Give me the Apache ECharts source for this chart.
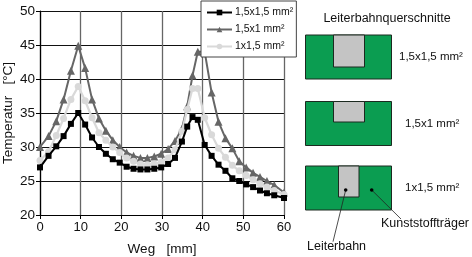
<!DOCTYPE html>
<html><head><meta charset="utf-8">
<style>html,body{margin:0;padding:0;background:#fff}#c{width:472px;height:257px}</style>
<script src="https://cdn.jsdelivr.net/npm/echarts@6/dist/echarts.min.js"></script>
</head><body><div id="c"></div>
<script>
const weg = [0,2.1,4,5.8,7.6,9.4,11.1,12.8,14.5,16.2,17.9,19.6,21.3,23,24.7,26.4,28.1,29.8,31.5,33.2,34.9,36.2,37.5,38.8,40.5,42.2,43.9,45.6,47.3,49,50.7,52.4,54.1,55.8,57.6,60];
const s15x15 = [27,28.7,30.1,31.6,33.4,35,33.3,31.4,30,29,28.2,27.7,27.1,26.8,26.7,26.7,26.8,27,27.5,28.4,30.8,33,34.4,34,30.3,28.7,27.4,26.5,25.4,25,24.5,24.1,23.6,23.2,22.9,22.5];
const s15x1 = [30,31.6,33.8,37,41.2,44.9,41.6,37,34.2,32.4,31,30,29.2,28.7,28.4,28.4,28.6,29,29.7,30.9,32.7,36,40.5,44,44,38,33.7,31.3,29.8,27.9,27,26.2,25.6,25,24.4,23.3];
const s1x15 = [28,29.3,31.7,34.2,37,38.9,36.8,34.3,32.1,31,30,29.2,28.4,27.9,27.5,27.4,27.5,27.8,28.4,29.6,32.3,35.5,38.6,38.6,34.3,31.8,29.8,28.5,27.3,26.5,25.8,25.2,24.6,24.1,23.6,23];
const seriesNames = ['1,5x1,5 mm²','1,5x1 mm²','1x1,5 mm²'];
const yTicks = {min:20,max:50,interval:5};
const xTicks = {min:0,max:60,interval:10};
const font = '"Liberation Sans",Arial,sans-serif';
const pairs = v => weg.map((x,i)=>[x,v[i]]);
const GREEN='#0b9d51', GRAY='#c4c4c4', EDGE='#1c2a20';
const rect=(x,y,w,h,fill)=>({type:'rect',shape:{x,y,width:w,height:h},style:{fill,stroke:EDGE,lineWidth:1}});
const txt=(x,y,t,align,size)=>({type:'text',x,y,style:{text:t,font:(size||12.5)+'px '+font,fill:'#111',textAlign:align||'left',textVerticalAlign:'middle'}});
const seg=(a,b,c,d)=>({type:'line',shape:{x1:a,y1:b,x2:c,y2:d},style:{stroke:'#222',lineWidth:0.8}});
const dot=(x,y)=>({type:'circle',shape:{cx:x,cy:y,r:1.8},style:{fill:'#000'}});
const chart=echarts.init(document.getElementById('c'),null,{renderer:'canvas'});
const line=(name,vals,color,symbol,size,w,z)=>({name,type:'line',data:pairs(vals),smooth:false,symbol,symbolSize:size,z,showSymbol:true,
  lineStyle:{color,width:w},itemStyle:{color}});
chart.setOption({
  animation:false,backgroundColor:'#fff',
  grid:{left:40,right:188,top:11,bottom:42,containLabel:false,outerBoundsMode:'none'},
  legend:{left:201,top:1,orient:'vertical',itemWidth:25,itemHeight:7,itemGap:6,padding:[6,3,5,5],
    backgroundColor:'#fff',borderColor:'#444',borderWidth:1,textStyle:{fontFamily:font,fontSize:10.5,color:'#111',padding:[0,0,0,-2]},
    data:[seriesNames[0],seriesNames[1],seriesNames[2]],z:20},
  xAxis:{type:'value',...xTicks,name:'Weg   [mm]',nameLocation:'middle',nameGap:34,nameMoveOverlap:false,
    nameTextStyle:{fontFamily:font,fontSize:13.5,color:'#111',verticalAlign:'middle'},
    axisLine:{show:true,onZero:false,lineStyle:{color:'#000',width:1.2}},axisTick:{show:true,length:4,lineStyle:{color:'#000'}},
    axisLabel:{fontFamily:font,fontSize:13,color:'#111',margin:6,showMinLabel:true,showMaxLabel:true},
    splitLine:{show:true,lineStyle:{color:'#666',width:1.3}}},
  yAxis:{type:'value',...yTicks,name:'Temperatur   [°C]',nameLocation:'middle',nameGap:32,nameMoveOverlap:false,
    nameTextStyle:{fontFamily:font,fontSize:13.5,color:'#111',verticalAlign:'middle'},
    axisLine:{show:true,onZero:false,lineStyle:{color:'#000',width:1.2}},axisTick:{show:true,length:4,lineStyle:{color:'#000'}},
    axisLabel:{fontFamily:font,fontSize:13.5,color:'#111',margin:5,showMinLabel:true,showMaxLabel:true},
    splitLine:{show:true,lineStyle:{color:'#111',width:1}}},
  series:[
    line(seriesNames[1],s15x1,'#666666','triangle',8,2,3),
    line(seriesNames[2],s1x15,'#d9d9d9','circle',7,2.2,4),
    line(seriesNames[0],s15x15,'#000000','rect',6,2,5)
  ],
  graphic:{elements:[
    rect(305.5,35,86,44,GREEN),rect(333.5,35,31,32,GRAY),
    rect(305.5,101.5,86,44,GREEN),rect(333.5,101.5,31,20.5,GRAY),
    rect(305.5,166,86,44,GREEN),rect(338.5,166,20.5,31,GRAY),
    txt(387,19,'Leiterbahnquerschnitte','center'),
    txt(399,57,seriesNames[0],'left',11.5),txt(405,124,seriesNames[1],'left',11.5),txt(405,188,seriesNames[2],'left',11.5),
    txt(381,224,'Kunststoffträger'),txt(307,247,'Leiterbahn'),
    seg(345.7,190,333,241.7),seg(371.7,190,401,219),dot(345.7,190),dot(371.7,190)
  ]}
});
</script></body></html>
